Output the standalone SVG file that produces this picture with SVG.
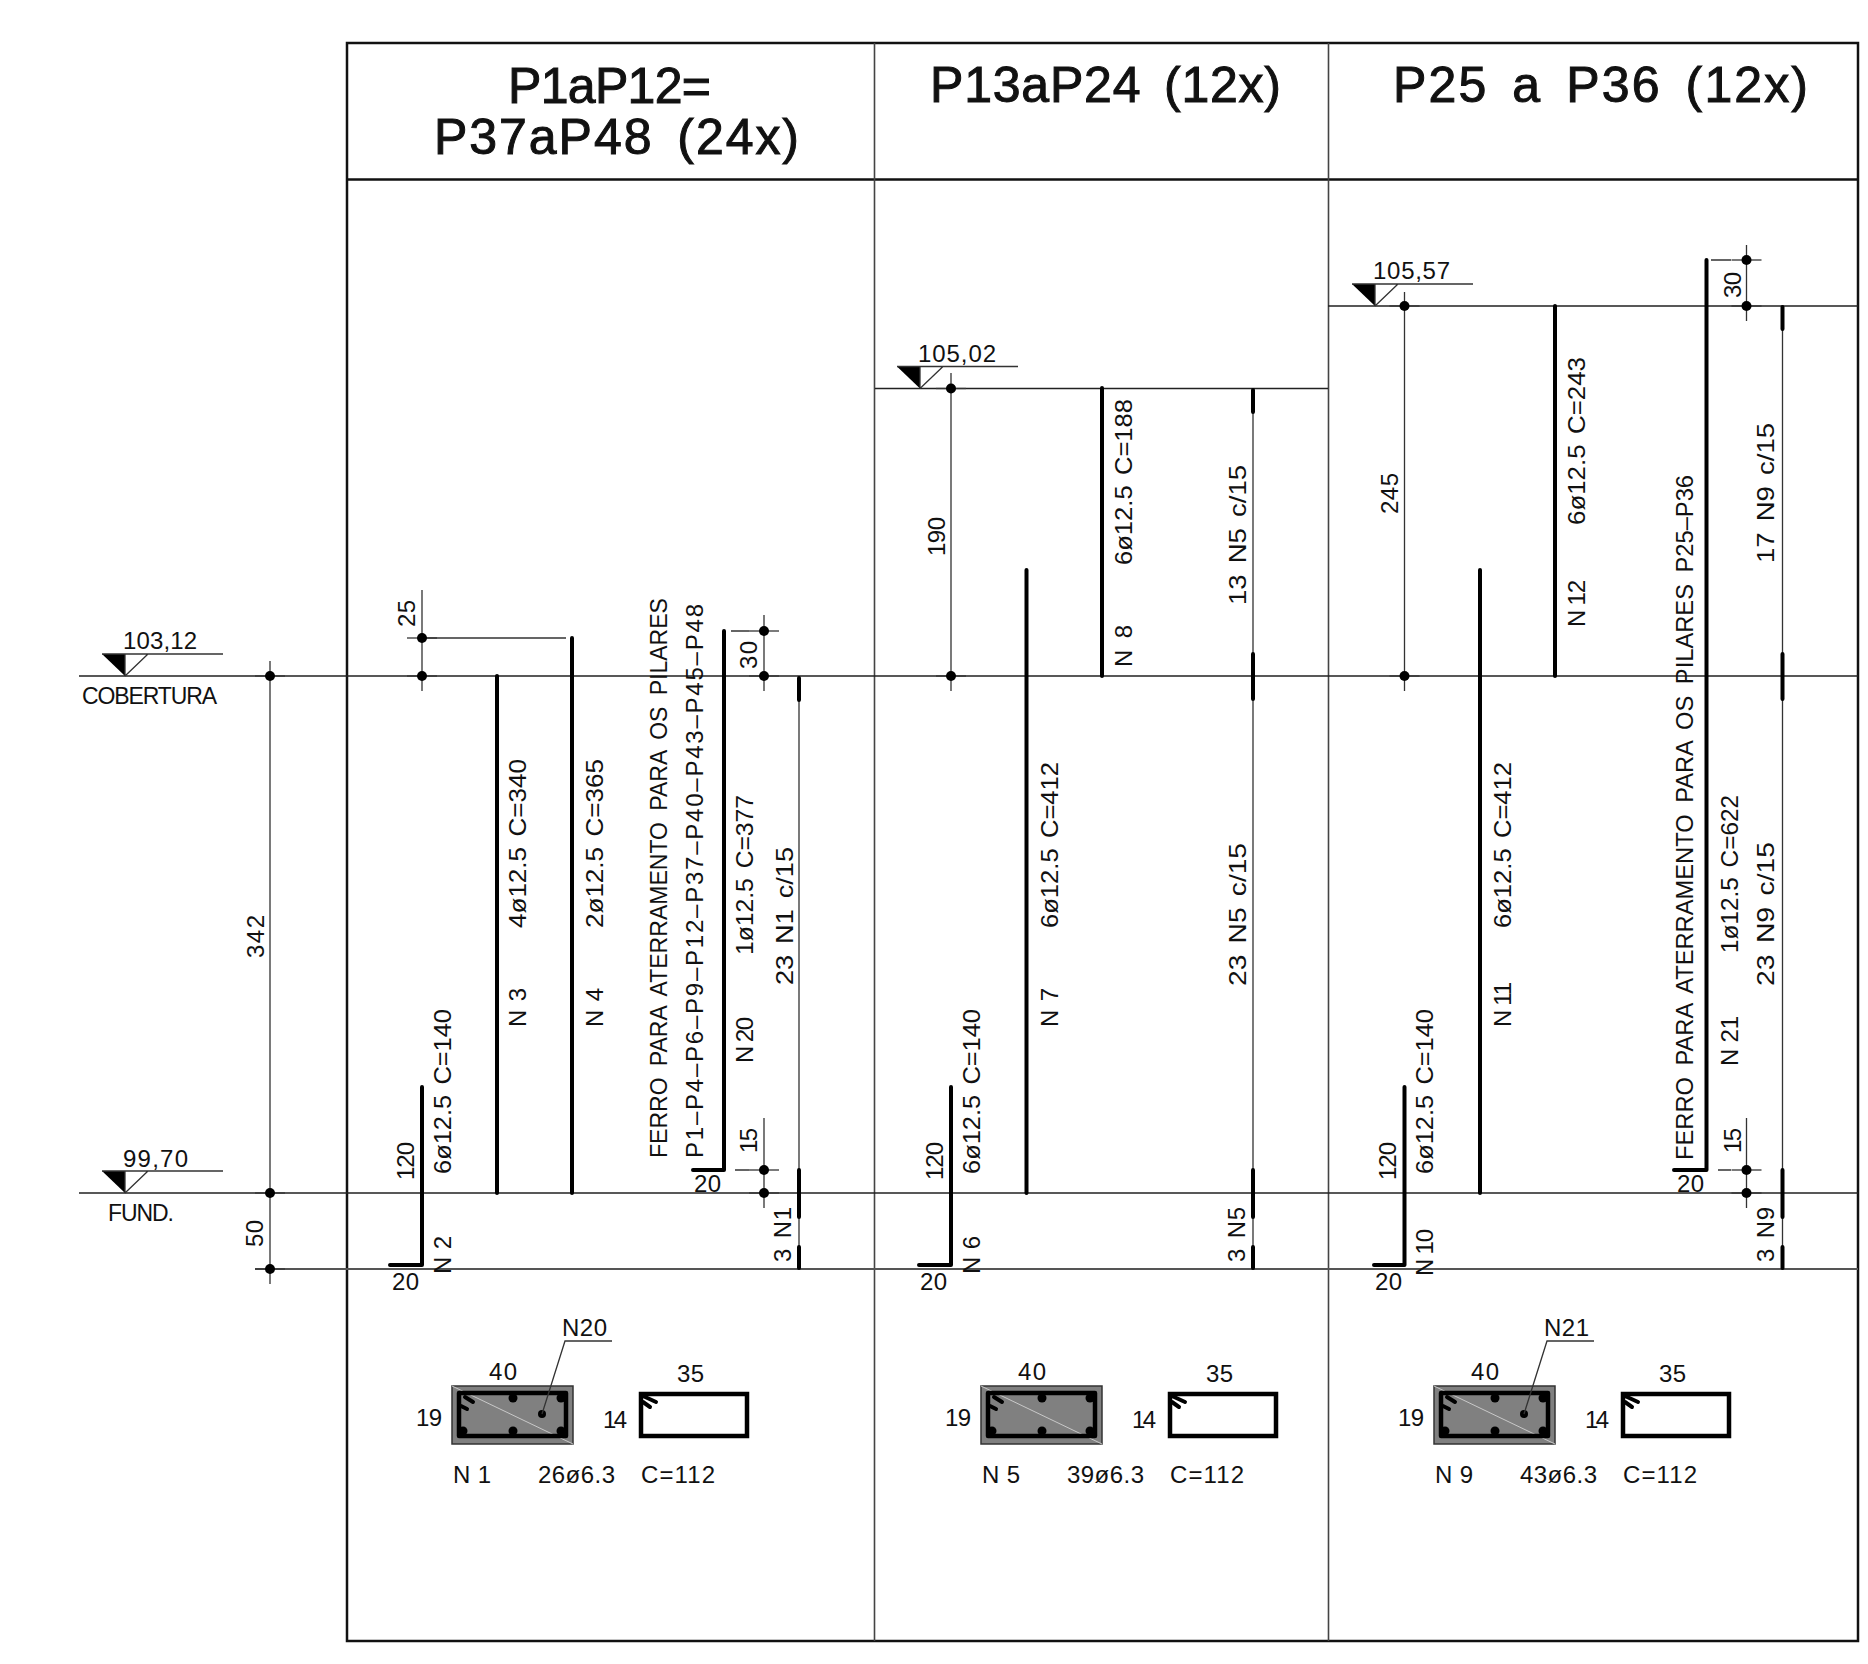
<svg xmlns="http://www.w3.org/2000/svg" width="1868" height="1664" viewBox="0 0 1868 1664">
<style>
text{font-family:"Liberation Sans",Arial,sans-serif;font-size:24px;fill:#111}
.h{font-size:50px;stroke:#111;stroke-width:1}
.w{word-spacing:5px}
.c{word-spacing:3px}
.b{fill:none;stroke:#000;stroke-width:4;stroke-linecap:round;stroke-linejoin:round}
.s{fill:none;stroke:#000;stroke-width:4.5;stroke-linecap:round}
.l{fill:none;stroke:#222;stroke-width:1.5}
.d{fill:none;stroke:#333;stroke-width:1.3}
.f{fill:none;stroke:#111;stroke-width:2.5}
.v{fill:none;stroke:#444;stroke-width:1.6}
.k{fill:#000}
</style>
<defs>
<g id="lvl">
<polygon class="k" points="0,0 23,0 23,22"/>
<path class="d" d="M0,0H121M23,22L46,0M23,0V22"/>
</g>
<g id="sec">
<rect x="452" y="1386" width="121" height="58" fill="#808080" stroke="#333" stroke-width="1.5"/>
<path d="M452,1386L573,1444" stroke="#c8c8c8" stroke-width="1" fill="none"/>
<rect x="459" y="1393" width="107" height="43" class="s" stroke-linejoin="round"/>
<path class="b" d="M465,1397L473,1402M461,1406L467,1409"/>
<circle class="k" cx="513" cy="1398" r="4.500"/><circle class="k" cx="561" cy="1398" r="4.500"/>
<circle class="k" cx="463" cy="1431" r="4.500"/><circle class="k" cx="513" cy="1431" r="4.500"/><circle class="k" cx="561" cy="1431" r="4.500"/>
<text x="489" y="1380" textLength="28">40</text>
<text x="416" y="1426" textLength="26">19</text>
<rect x="641" y="1394" width="106" height="42" class="s"/>
<path class="b" d="M643,1396L656,1402M643,1402L650,1407"/>
<text x="603" y="1428" textLength="24">14</text>
<text x="677" y="1382" textLength="27">35</text>
<text x="641" y="1483" textLength="74">C=112</text>
</g>
<g id="tick"><path class="d" d="M-15,0H15"/><circle class="k" r="5"/></g>
</defs>

<g id="frame">
<rect x="347" y="43" width="1511" height="1598" class="f"/>
<path class="f" d="M347,179.500H1858"/>
<path class="v" d="M874.500,43V1641M1328.500,43V1641"/>
<text class="h" x="508" y="103" textLength="203">P1aP12=</text>
<text class="h" x="434" y="154" textLength="365" style="word-spacing:8px">P37aP48 (24x)</text>
<text class="h" x="930" y="102" textLength="351" style="word-spacing:8px">P13aP24 (12x)</text>
<text class="h" x="1393" y="102" textLength="415" style="word-spacing:8px">P25 a P36 (12x)</text>
</g>

<g id="levels">
<path class="l" d="M79,676H1858M79,1193H1858"/>
<path d="M255,1269H1858" fill="none" stroke="#555" stroke-width="2"/>
<path class="l" d="M875,388.500H1328M1328,306H1858"/>
<use href="#lvl" x="102" y="654"/>
<use href="#lvl" x="102" y="1171"/>
<use href="#lvl" x="897" y="366.500"/>
<use href="#lvl" x="1352" y="284"/>
<text x="123" y="649" textLength="74">103,12</text>
<text x="82" y="704" textLength="135" style="font-size:23px">COBERTURA</text>
<text x="123" y="1167" textLength="65">99,70</text>
<text x="108" y="1221" textLength="66" style="font-size:23px">FUND.</text>
<text x="918" y="362" textLength="78">105,02</text>
<text x="1373" y="279" textLength="77">105,57</text>
</g>

<g id="dims">
<path class="d" d="M270,661V1284M422,590V691M422,638H566M764,615V691M749,631H731M764,1118V1208M749,1170H735M951,373V691M1404.500,292V691M1746.500,245V321M1731,260H1711M1746.500,1118V1208M1731,1170H1718"/>
<use href="#tick" x="270" y="676"/><use href="#tick" x="270" y="1193"/><use href="#tick" x="270" y="1269"/>
<use href="#tick" x="422" y="638"/><use href="#tick" x="422" y="676"/>
<use href="#tick" x="764" y="631"/><use href="#tick" x="764" y="676"/><use href="#tick" x="764" y="1170"/><use href="#tick" x="764" y="1193"/>
<use href="#tick" x="951" y="388.500"/><use href="#tick" x="951" y="676"/>
<use href="#tick" x="1404.500" y="306"/><use href="#tick" x="1404.500" y="676"/>
<use href="#tick" x="1746.500" y="260"/><use href="#tick" x="1746.500" y="306"/><use href="#tick" x="1746.500" y="1170"/><use href="#tick" x="1746.500" y="1193"/>
<text transform="translate(264,958) rotate(-90)" textLength="43">342</text>
<text transform="translate(263,1247) rotate(-90)" textLength="27">50</text>
</g>

<g id="bars">
<path class="b" d="M390,1265H422V1087M497,676V1193M572,638V1193M693,1170H724V631"/>
<path class="b" d="M919,1265H951V1087M1026.500,570V1193M1102,388V676"/>
<path class="b" d="M1374,1265H1404.500V1087M1480,570V1193M1555,306V676M1674,1170H1706.500V260"/>
<path class="d" d="M799,676V1269M1253,388V1269M1782.500,306V1269"/>
<path class="b" d="M799,678V700M799,1170V1217M799,1247V1268"/>
<path class="b" d="M1253,390V412M1253,654V699M1253,1170V1217M1253,1247V1268"/>
<path class="b" d="M1782.500,307V329M1782.500,654V699M1782.500,1170V1217M1782.500,1247V1268"/>
</g>

<g id="col1">
<text transform="translate(415,627) rotate(-90)" textLength="27">25</text>
<text transform="translate(414,1180) rotate(-90)" textLength="38">120</text>
<text class="c" transform="translate(451,1174) rotate(-90)" textLength="165" lengthAdjust="spacingAndGlyphs">6ø12.5 C=140</text>
<text transform="translate(451,1274) rotate(-90)" textLength="38">N 2</text>
<text class="c" transform="translate(526,928) rotate(-90)" textLength="169" lengthAdjust="spacingAndGlyphs">4ø12.5 C=340</text>
<text class="c" transform="translate(526,1027) rotate(-90)" textLength="39">N 3</text>
<text class="c" transform="translate(603,928) rotate(-90)" textLength="169" lengthAdjust="spacingAndGlyphs">2ø12.5 C=365</text>
<text class="c" transform="translate(603,1027) rotate(-90)" textLength="39">N 4</text>
<text class="w" transform="translate(667,1158) rotate(-90)" textLength="560" lengthAdjust="spacingAndGlyphs">FERRO PARA ATERRAMENTO PARA OS PILARES</text>
<text transform="translate(703,1158) rotate(-90)" textLength="554">P1–P4–P6–P9–P12–P37–P40–P43–P45–P48</text>
<text class="c" transform="translate(753,955) rotate(-90)" textLength="160" lengthAdjust="spacingAndGlyphs">1ø12.5 C=377</text>
<text transform="translate(753,1063) rotate(-90)" textLength="46">N 20</text>
<text class="c" transform="translate(793,985) rotate(-90)" textLength="138" lengthAdjust="spacingAndGlyphs">23 N1 c/15</text>
<text transform="translate(757,669) rotate(-90)" textLength="28">30</text>
<text transform="translate(757,1153) rotate(-90)" textLength="25">15</text>
<text class="c" transform="translate(791,1262) rotate(-90)" textLength="55">3 N1</text>
<text x="392" y="1290" textLength="27">20</text>
<text x="694" y="1192" textLength="27">20</text>
</g>

<g id="col2">
<text transform="translate(945,556) rotate(-90)" textLength="39">190</text>
<text transform="translate(943,1180) rotate(-90)" textLength="38">120</text>
<text class="c" transform="translate(980,1174) rotate(-90)" textLength="165" lengthAdjust="spacingAndGlyphs">6ø12.5 C=140</text>
<text transform="translate(980,1274) rotate(-90)" textLength="38">N 6</text>
<text class="c" transform="translate(1058,928) rotate(-90)" textLength="166" lengthAdjust="spacingAndGlyphs">6ø12.5 C=412</text>
<text class="c" transform="translate(1058,1027) rotate(-90)" textLength="39">N 7</text>
<text class="c" transform="translate(1132,565) rotate(-90)" textLength="166" lengthAdjust="spacingAndGlyphs">6ø12.5 C=188</text>
<text class="c" transform="translate(1132,667) rotate(-90)" textLength="42">N 8</text>
<text class="c" transform="translate(1246,605) rotate(-90)" textLength="140" lengthAdjust="spacingAndGlyphs">13 N5 c/15</text>
<text class="c" transform="translate(1246,986) rotate(-90)" textLength="143" lengthAdjust="spacingAndGlyphs">23 N5 c/15</text>
<text class="c" transform="translate(1245,1262) rotate(-90)" textLength="55">3 N5</text>
<text x="920" y="1290" textLength="27">20</text>
</g>

<g id="col3">
<text transform="translate(1398,514) rotate(-90)" textLength="41">245</text>
<text transform="translate(1396,1180) rotate(-90)" textLength="38">120</text>
<text class="c" transform="translate(1433,1174) rotate(-90)" textLength="165" lengthAdjust="spacingAndGlyphs">6ø12.5 C=140</text>
<text transform="translate(1433,1276) rotate(-90)" textLength="47">N 10</text>
<text class="c" transform="translate(1511,928) rotate(-90)" textLength="166" lengthAdjust="spacingAndGlyphs">6ø12.5 C=412</text>
<text transform="translate(1511,1027) rotate(-90)" textLength="45">N 11</text>
<text class="c" transform="translate(1585,525) rotate(-90)" textLength="168" lengthAdjust="spacingAndGlyphs">6ø12.5 C=243</text>
<text transform="translate(1585,627) rotate(-90)" textLength="47">N 12</text>
<text class="w" transform="translate(1693,1160) rotate(-90)" textLength="685" lengthAdjust="spacingAndGlyphs">FERRO PARA ATERRAMENTO PARA OS PILARES P25–P36</text>
<text class="c" transform="translate(1738,953) rotate(-90)" textLength="158" lengthAdjust="spacingAndGlyphs">1ø12.5 C=622</text>
<text transform="translate(1738,1066) rotate(-90)" textLength="50">N 21</text>
<text class="c" transform="translate(1774,563) rotate(-90)" textLength="140" lengthAdjust="spacingAndGlyphs">17 N9 c/15</text>
<text class="c" transform="translate(1774,986) rotate(-90)" textLength="144" lengthAdjust="spacingAndGlyphs">23 N9 c/15</text>
<text transform="translate(1741,298) rotate(-90)" textLength="26">30</text>
<text transform="translate(1741,1153) rotate(-90)" textLength="25">15</text>
<text class="c" transform="translate(1774,1262) rotate(-90)" textLength="55">3 N9</text>
<text x="1375" y="1290" textLength="27">20</text>
<text x="1677" y="1192" textLength="27">20</text>
</g>

<g id="section1">
<use href="#sec"/>
<circle class="k" cx="542" cy="1414" r="4"/>
<path class="d" d="M542,1414L565,1341H612"/>
<text x="562" y="1336" textLength="45">N20</text>
<text class="c" x="453" y="1483" textLength="38">N 1</text>
<text x="538" y="1483" textLength="77">26ø6.3</text>
</g>
<g id="section2">
<use href="#sec" x="529"/>
<text class="c" x="982" y="1483" textLength="38">N 5</text>
<text x="1067" y="1483" textLength="77">39ø6.3</text>
</g>
<g id="section3">
<use href="#sec" x="982"/>
<circle class="k" cx="1524" cy="1414" r="4"/>
<path class="d" d="M1524,1414L1547,1341H1594"/>
<text x="1544" y="1336" textLength="45">N21</text>
<text class="c" x="1435" y="1483" textLength="38">N 9</text>
<text x="1520" y="1483" textLength="77">43ø6.3</text>
</g>
</svg>
